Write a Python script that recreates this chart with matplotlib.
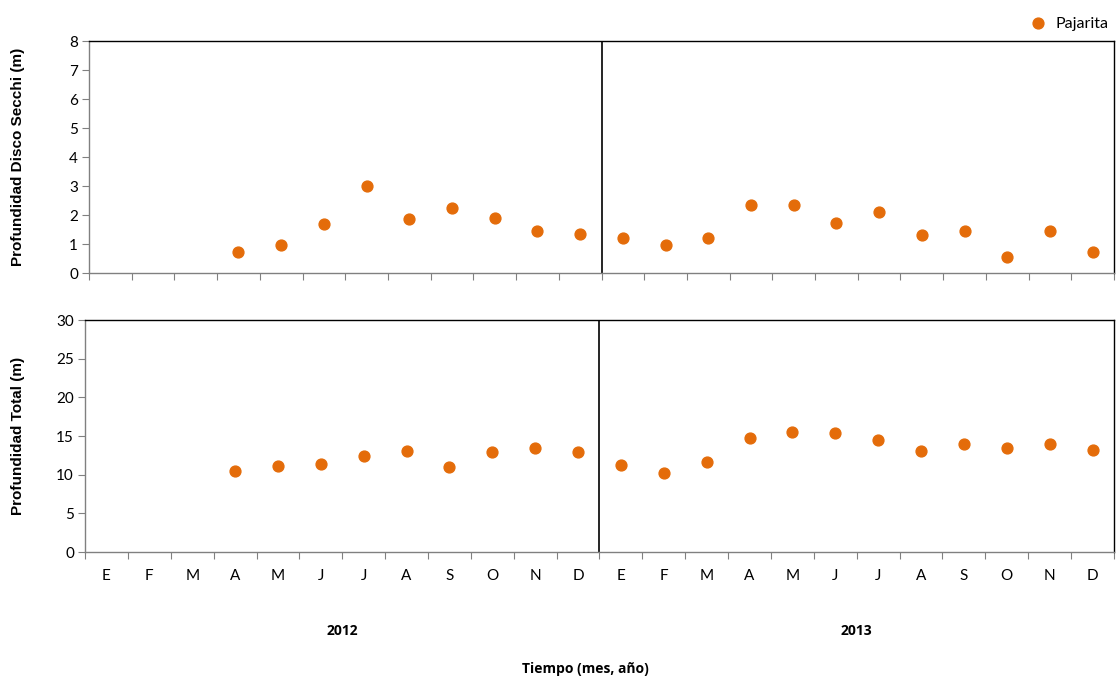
import matplotlib
matplotlib.use("Agg")
import matplotlib.pyplot as plt
import numpy as np

# months E..D for 2012 and 2013
meses = ["E", "F", "M", "A", "M", "J", "J", "A", "S", "O", "N", "D"] * 2
anios = ["2012", "2013"]

# Pajarita, first sample in April 2012 (index 3)
secchi = [None, None, None, 0.72, 0.97, 1.7, 3.0, 1.86, 2.24, 1.9, 1.45, 1.35,
          1.21, 0.97, 1.21, 2.34, 2.34, 1.72, 2.09, 1.33, 1.46, 0.56, 1.46, 0.71]
total = [None, None, None, 10.5, 11.1, 11.4, 12.4, 13.0, 11.0, 12.9, 13.4, 12.9,
         11.3, 10.2, 11.7, 14.8, 15.5, 15.4, 14.5, 13.1, 14.0, 13.4, 14.0, 13.2]

naranja = "#E46C0A"
tickfont = "Lato"
labfont = "Liberation Sans"

fig = plt.figure(figsize=(11.17, 6.81), dpi=100)
ax1 = fig.add_axes([0.0797, 0.599, 0.9176, 0.3407])
ax2 = fig.add_axes([0.0761, 0.1894, 0.9212, 0.3407])

x = np.arange(len(meses))

def arreglar(ax, datos, ymax, ystep, ylabel):
    xs = [i for i, v in enumerate(datos) if v is not None]
    ys = [v for v in datos if v is not None]
    ax.plot(xs, ys, "o", color=naranja, ms=7.8, mec=naranja, label="Pajarita")
    ax.set_xlim(-0.5, len(meses) - 0.5)
    ax.set_ylim(0, ymax)
    ax.set_yticks(np.arange(0, ymax + 0.1, ystep))
    ax.set_xticks(np.arange(-0.5, len(meses), 1.0))
    ax.set_xticklabels([])
    ax.set_xticks(x, minor=True)
    ax.tick_params(axis="x", which="minor", length=0)
    ax.tick_params(axis="x", which="major", length=5, color="#808080", direction="out")
    ax.tick_params(axis="y", length=5, color="#808080", direction="out", pad=3)
    for lab in ax.get_yticklabels():
        lab.set_fontfamily(tickfont)
        lab.set_fontsize(11)
    for s in ["top", "right"]:
        ax.spines[s].set_color("black")
        ax.spines[s].set_linewidth(1.0)
    for s in ["left", "bottom"]:
        ax.spines[s].set_color("#808080")
        ax.spines[s].set_linewidth(1.0)
    ax.axvline(11.5, color="black", lw=1.2)
    # y label placed at the same figure x for both panels
    pos = ax.get_position()
    fig.text(18 / 1117, pos.y0 + pos.height / 2, ylabel, rotation=90, ha="center", va="center",
             fontfamily=labfont, fontweight="bold", fontsize=11)

arreglar(ax1, secchi, 8, 1, "Profundidad Disco Secchi (m)")
arreglar(ax2, total, 30, 5, "Profundidad Total (m)")

ax2.set_xticks(x, minor=True)
ax2.set_xticklabels(meses, minor=True, fontfamily=tickfont, fontsize=11)
ax2.tick_params(axis="x", which="minor", pad=12)

# year labels
for k, a in enumerate(anios):
    ax2.text(5.5 + 12 * k, -0.34, a, transform=ax2.get_xaxis_transform(),
             ha="center", va="center", fontfamily="Open Sans", fontweight="bold", fontsize=10)
fig.text(0.524, 0.018, "Tiempo (mes, año)", ha="center", va="center",
         fontfamily="Open Sans", fontweight="bold", fontsize=10)

ax1.legend(loc="lower right", bbox_to_anchor=(1.004, 1.0), frameon=False,
           prop={"family": tickfont, "size": 11.5}, handletextpad=0.1, borderaxespad=0.2,
           markerscale=1.0)

fig.savefig("out.png", dpi=100)
